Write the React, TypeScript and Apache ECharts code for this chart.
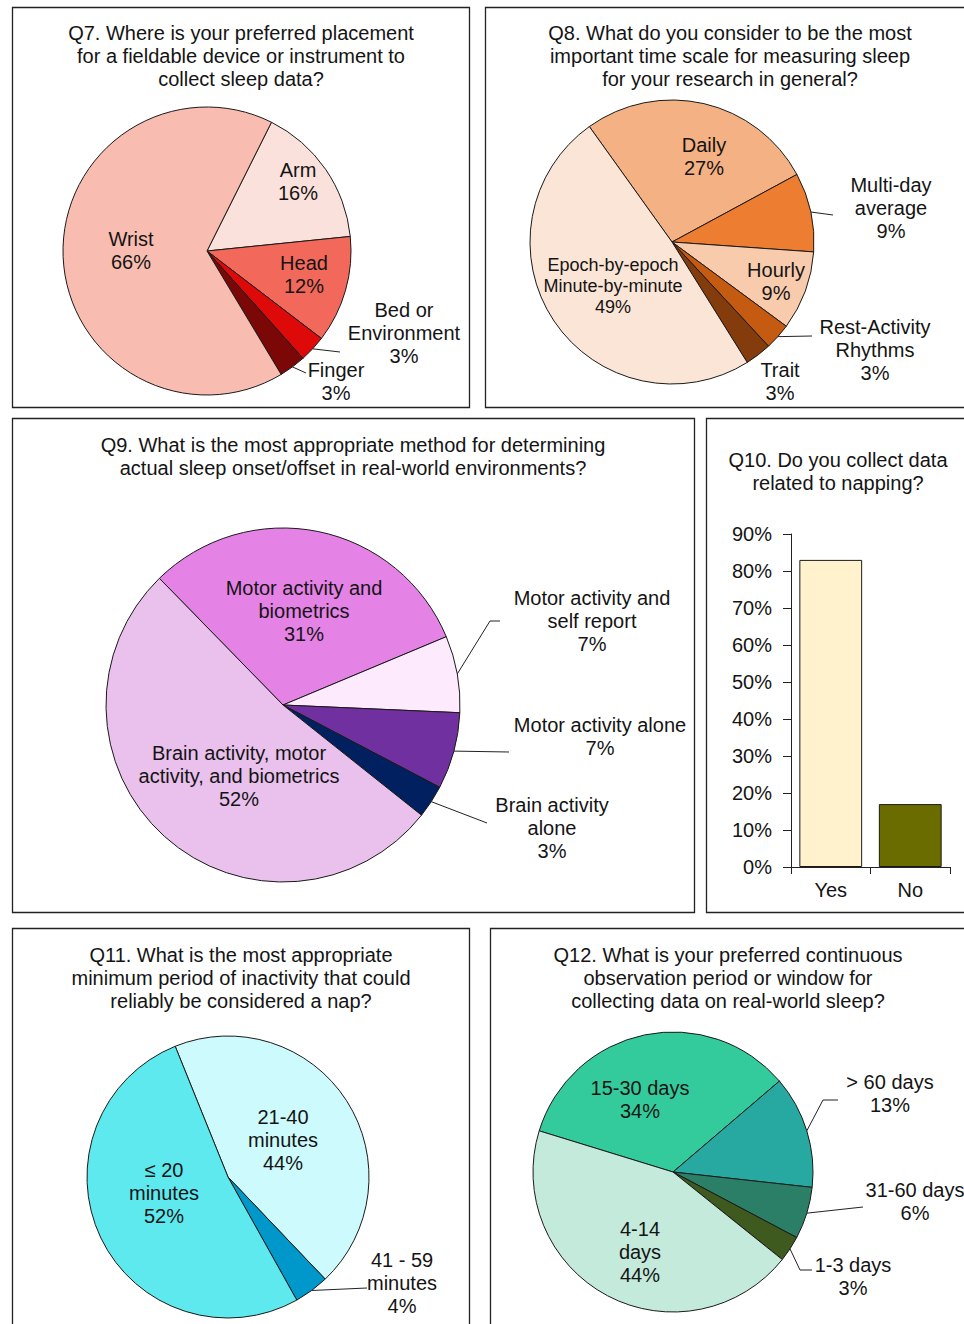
import React, { useEffect, useRef } from 'react';
import * as echarts from 'echarts';

const FONT = '"Liberation Sans", Arial, Helvetica, sans-serif';
const INK = '#141414';
const FS = 20;

// ---------- DATA ----------
const q7Title = 'Q7. Where is your preferred placement\nfor a fieldable device or instrument to\ncollect sleep data?';
const q7Categories = ['Arm', 'Head', 'Bed or\nEnvironment', 'Finger', 'Wrist'];
const q7Values = [16, 12, 3, 3, 66];

const q8Title = 'Q8. What do you consider to be the most\nimportant time scale for measuring sleep\nfor your research in general?';
const q8Categories = ['Daily', 'Multi-day\naverage', 'Hourly', 'Rest-Activity\nRhythms', 'Trait', 'Epoch-by-epoch\nMinute-by-minute'];
const q8Values = [27, 9, 9, 3, 3, 49];

const q9Title = 'Q9. What is the most appropriate method for determining\nactual sleep onset/offset in real-world environments?';
const q9Categories = ['Motor activity and\nbiometrics', 'Motor activity and\nself report', 'Motor activity alone', 'Brain activity\nalone', 'Brain activity, motor\nactivity, and biometrics'];
const q9Values = [31, 7, 7, 3, 52];

const q10Title = 'Q10. Do you collect data\nrelated to napping?';
const q10Categories = ['Yes', 'No'];
const q10Values = [83, 17];
const q10AxisMin = 0;
const q10AxisMax = 90;
const q10AxisStep = 10;

const q11Title = 'Q11. What is the most appropriate\nminimum period of inactivity that could\nreliably be considered a nap?';
const q11Categories = ['21-40\nminutes', '41 - 59\nminutes', '≤ 20\nminutes'];
const q11Values = [44, 4, 52];

const q12Title = 'Q12. What is your preferred continuous\nobservation period or window for\ncollecting data on real-world sleep?';
const q12Categories = ['15-30 days', '> 60 days', '31-60 days', '1-3 days', '4-14\ndays'];
const q12Values = [34, 13, 6, 3, 44];

// ---------- STYLES ----------
const q7Colors = ['#FBE1DC', '#F2695B', '#DE0A0A', '#7C0707', '#F8BDB0'];
const q8Colors = ['#F4B183', '#ED7D31', '#F8CBAD', '#C55A11', '#843C0C', '#FBE5D6'];
const q9Colors = ['#E582E6', '#FDEAFD', '#7030A0', '#002060', '#E9C1EC'];
const q10Colors = ['#FFF2CC', '#6A6C00'];
const q11Colors = ['#CCFAFD', '#0098CB', '#5DE9EE'];
const q12Colors = ['#34CB9C', '#27A9A1', '#2B7F67', '#3E5A1F', '#C3EADB'];

type LabelPos = { x: number; y: number; line?: number[][]; small?: boolean };

// label placements (layout, not data)
const q7Labels: LabelPos[] = [
  { x: 298, y: 181 },
  { x: 304, y: 274 },
  { x: 404, y: 333, line: [[340, 352]] },
  { x: 336, y: 381, line: [[306, 373]] },
  { x: 131, y: 250 },
];
const q8Labels: LabelPos[] = [
  { x: 704, y: 156 },
  { x: 891, y: 208, line: [[833, 215]] },
  { x: 776, y: 281 },
  { x: 875, y: 350, line: [[812, 336]] },
  { x: 780, y: 381 },
  { x: 613, y: 286, small: true },
];
const q9Labels: LabelPos[] = [
  { x: 304, y: 611 },
  { x: 592, y: 621, line: [[490, 621], [500, 621]] },
  { x: 600, y: 736, line: [[509, 752]] },
  { x: 552, y: 828, line: [[487, 823]] },
  { x: 239, y: 776 },
];
const q11Labels: LabelPos[] = [
  { x: 283, y: 1140 },
  { x: 402, y: 1283, line: [[367, 1288]] },
  { x: 164, y: 1193 },
];
const q12Labels: LabelPos[] = [
  { x: 640, y: 1099 },
  { x: 890, y: 1093, line: [[823, 1100], [838, 1100]] },
  { x: 915, y: 1201, line: [[863, 1207]] },
  { x: 853, y: 1276, line: [[800, 1270], [812, 1270]] },
  { x: 640, y: 1252 },
];

function arcPoint(center: number[], r: number, startAngle: number, values: number[], i: number) {
  const total = values.reduce((a, b) => a + b, 0);
  let acc = 0;
  for (let j = 0; j < i; j++) acc += values[j];
  const mid = startAngle - ((acc + values[i] / 2) / total) * 360;
  const rad = (mid * Math.PI) / 180;
  return [center[0] + r * Math.cos(rad), center[1] - r * Math.sin(rad)];
}

function pieSeries(
  names: string[],
  values: number[],
  colors: string[],
  center: number[],
  radius: number,
  startAngle: number,
  labels: LabelPos[]
) {
  return {
    type: 'pie',
    center,
    radius,
    startAngle,
    clockwise: true,
    avoidLabelOverlap: false,
    silent: true,
    emphasis: { disabled: true },
    itemStyle: { borderColor: '#1a1a1a', borderWidth: 1 },
    label: {
      show: true,
      position: 'outside',
      formatter: (p: any) => `${p.name}\n${p.value}%`,
      fontSize: FS,
      lineHeight: 23,
      fontFamily: FONT,
      color: INK,
      overflow: 'none',
    },
    labelLine: { show: true, length: 4, length2: 4, smooth: false, lineStyle: { color: '#222', width: 1 } },
    labelLayout: (params: any) => {
      const L = labels[params.dataIndex];
      const res: any = { x: L.x, y: L.y, align: 'center', verticalAlign: 'middle' };
      if (L.line) res.labelLinePoints = [arcPoint(center, radius, startAngle, values, params.dataIndex), ...L.line];
      return res;
    },
    data: names.map((n, i) => ({
      name: n,
      value: values[i],
      itemStyle: { color: colors[i] },
      labelLine: { show: !!labels[i].line },
      label: labels[i].small ? { fontSize: 18, lineHeight: 21 } : undefined,
    })),
  };
}

function titleText(text: string, x: number, y: number) {
  return {
    type: 'text',
    silent: true,
    style: { text, x, y, align: 'center', verticalAlign: 'middle', fontSize: FS, lineHeight: 23, fontFamily: FONT, fill: INK },
  };
}

function frame(x: number, y: number, w: number, h: number) {
  return {
    type: 'rect',
    silent: true,
    shape: { x: x + 0.5, y: y + 0.5, width: w, height: h },
    style: { fill: 'none', stroke: '#222', lineWidth: 1.3 },
  };
}

export default function App() {
  const ref = useRef<HTMLDivElement>(null);
  useEffect(() => {
    if (!ref.current) return;
    const chart = echarts.init(ref.current, undefined, { renderer: 'svg' });
    const option: any = {
      animation: false,
      backgroundColor: '#ffffff',
      graphic: [
        frame(12, 7, 457, 400),
        frame(485, 7, 520, 400),
        frame(12, 418, 682, 494),
        frame(706, 418, 300, 494),
        frame(12, 928, 457, 430),
        frame(490, 928, 520, 430),
        titleText(q7Title, 241, 56),
        titleText(q8Title, 730, 56),
        titleText(q9Title, 353, 456),
        titleText(q10Title, 838, 471),
        titleText(q11Title, 241, 978),
        titleText(q12Title, 728, 978),
      ],
      grid: { left: 791, top: 534, width: 159, height: 333, containLabel: false },
      xAxis: {
        type: 'category',
        data: q10Categories,
        axisLine: { show: true, lineStyle: { color: '#222', width: 1 } },
        axisTick: { show: true, length: 7, inside: false, lineStyle: { color: '#222' } },
        axisLabel: { fontSize: FS, fontFamily: FONT, color: INK, margin: 13 },
        splitLine: { show: false },
      },
      yAxis: {
        type: 'value',
        min: q10AxisMin,
        max: q10AxisMax,
        interval: q10AxisStep,
        axisLine: { show: true, lineStyle: { color: '#222', width: 1 } },
        axisTick: { show: true, length: 8, inside: false, lineStyle: { color: '#222' } },
        axisLabel: { fontSize: FS, fontFamily: FONT, color: INK, margin: 19, formatter: '{value}%' },
        splitLine: { show: false },
      },
      series: [
        pieSeries(q7Categories, q7Values, q7Colors, [207, 251], 144, 63.4, q7Labels),
        pieSeries(q8Categories, q8Values, q8Colors, [672, 242], 142, 125.6, q8Labels),
        pieSeries(q9Categories, q9Values, q9Colors, [283, 705], 177, 134.3, q9Labels),
        {
          type: 'bar',
          silent: true,
          barCategoryGap: '21%',
          data: q10Values.map((v, i) => ({ value: v, itemStyle: { color: q10Colors[i] } })),
          itemStyle: { borderColor: '#1a1a1a', borderWidth: 1 },
          label: { show: false },
        },
        pieSeries(q11Categories, q11Values, q11Colors, [228, 1177], 141, 112, q11Labels),
        pieSeries(q12Categories, q12Values, q12Colors, [673, 1172], 140, 162.9, q12Labels),
      ],
    };
    chart.setOption(option);
    return () => chart.dispose();
  }, []);
  return (
    <div
      ref={ref}
      style={{ position: 'absolute', left: 0, top: 0, width: 964, height: 1324, background: '#fff' }}
    />
  );
}
